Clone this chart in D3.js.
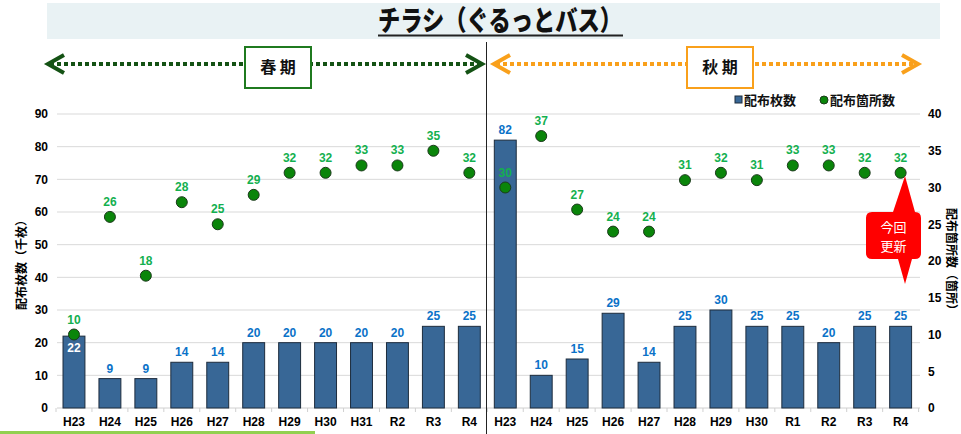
<!DOCTYPE html>
<html><head><meta charset="utf-8">
<script src="https://cdn.jsdelivr.net/npm/d3@7"></script>
<style>body{margin:0;background:#fff}svg{display:block}</style>
</head><body><svg id="c" width="961" height="434"></svg>
<script>
const categories = ["H23","H24","H25","H26","H27","H28","H29","H30","H31","R2","R3","R4"];
const categoriesAutumn = ["H23","H24","H25","H26","H27","H28","H29","H30","R1","R2","R3","R4"];
const springSheets = [22,9,9,14,14,20,20,20,20,20,25,25];
const springSites  = [10,26,18,28,25,29,32,32,33,33,35,32];
const autumnSheets = [82,10,15,29,14,25,30,25,25,20,25,25];
const autumnSites  = [30,37,27,24,24,31,32,31,33,33,32,32];
const leftTicks = [0,10,20,30,40,50,60,70,80,90];
const rightTicks = [0,5,10,15,20,25,30,35,40];

const rows = [];
categories.forEach((c,i)=>rows.push({key:"s"+i,label:c,sheets:springSheets[i],sites:springSites[i],season:"s",i}));
categoriesAutumn.forEach((c,i)=>rows.push({key:"a"+i,label:c,sheets:autumnSheets[i],sites:autumnSites[i],season:"a",i}));

const svg = d3.select("#c");
const JP = "'Noto Sans CJK JP','Noto Sans',sans-serif";
const NUM = "'Liberation Sans',Arial,sans-serif";

const x = d3.scaleBand().domain(rows.map(d=>d.key)).range([56,918.6]).paddingInner(0.39).paddingOuter(0.195);
const yL = d3.scaleLinear().domain([0,90]).range([408,114]);
const yR = d3.scaleLinear().domain([0,40]).range([408,114]);

// title banner
svg.append("rect").attr("x",47).attr("y",3).attr("width",893).attr("height",36).attr("fill","#e9f2f4");
svg.append("text").attr("x",500).attr("y",31).attr("text-anchor","middle")
  .attr("font-family",JP).attr("font-weight","900").attr("font-size",28)
  .attr("textLength",244).attr("lengthAdjust","spacingAndGlyphs").attr("fill","#111")
  .text("チラシ（ぐるっとバス）");
svg.append("line").attr("x1",378).attr("x2",623).attr("y1",35.5).attr("y2",35.5).attr("stroke","#222").attr("stroke-width",2);

// gridlines
svg.append("g").selectAll("line").data(leftTicks.filter(t=>t>0)).join("line")
  .attr("x1",57).attr("x2",920).attr("y1",d=>yL(d)).attr("y2",d=>yL(d))
  .attr("stroke","#d9d9d9").attr("stroke-width",1);
// baseline with ticks
svg.append("line").attr("x1",57).attr("x2",920).attr("y1",yL(0)).attr("y2",yL(0)).attr("stroke","#d0d0d0");
const bounds = rows.map(d=>x(d.key)-x.step()*x.paddingInner()/2);
bounds.push(918.6);
svg.append("g").selectAll("line").data(bounds).join("line")
  .attr("x1",d=>d).attr("x2",d=>d).attr("y1",yL(0)).attr("y2",yL(0)+4).attr("stroke","#d0d0d0");

// axes
const axL = svg.append("g").attr("transform","translate(48,0)").call(d3.axisLeft(yL).tickValues(leftTicks).tickSize(0).tickPadding(0));
const axR = svg.append("g").attr("transform","translate(928,0)").call(d3.axisRight(yR).tickValues(rightTicks).tickSize(0).tickPadding(0));
[axL,axR].forEach(a=>{a.select(".domain").remove();
  a.selectAll("text").attr("font-family",NUM).attr("font-weight","bold").attr("font-size",12).attr("fill","#000");});
const axX = svg.append("g").attr("transform","translate(0,"+yL(0)+")").call(d3.axisBottom(x).tickFormat(k=>rows.find(r=>r.key===k).label).tickSize(0).tickPadding(9));
axX.select(".domain").remove();
axX.selectAll("text").attr("font-family",NUM).attr("font-weight","bold").attr("font-size",12).attr("fill","#000");

// axis titles
svg.append("text").attr("transform","translate(26,262) rotate(-90)").attr("text-anchor","middle")
  .attr("font-family",JP).attr("font-weight","bold").attr("font-size",12).attr("fill","#000").text("配布枚数（千枚）");
svg.append("text").attr("transform","translate(947,262) rotate(90)").attr("text-anchor","middle")
  .attr("font-family",JP).attr("font-weight","bold").attr("font-size",12).attr("fill","#000").text("配布箇所数（箇所）");

// bars
svg.append("g").selectAll("rect").data(rows).join("rect")
  .attr("x",d=>x(d.key)).attr("width",x.bandwidth())
  .attr("y",d=>yL(d.sheets)).attr("height",d=>yL(0)-yL(d.sheets))
  .attr("fill","#386796").attr("stroke","#1d2c3d").attr("stroke-width",1);
// bar labels
svg.append("g").selectAll("text").data(rows).join("text")
  .attr("x",d=>x(d.key)+x.bandwidth()/2)
  .attr("y",d=>(d.season==="s"&&d.i===0)? yL(d.sheets)+16 : yL(d.sheets)-6)
  .attr("text-anchor","middle").attr("font-family",NUM).attr("font-weight","bold").attr("font-size",12)
  .attr("fill",d=>(d.season==="s"&&d.i===0)?"#fff":"#0a72c8").text(d=>d.sheets);

// dots
svg.append("g").selectAll("circle").data(rows).join("circle")
  .attr("cx",d=>x(d.key)+x.bandwidth()/2).attr("cy",d=>yR(d.sites)).attr("r",5.5)
  .attr("fill","#0a850a").attr("stroke","#1b3a1b").attr("stroke-width",1);
svg.append("g").selectAll("text").data(rows).join("text")
  .attr("x",d=>x(d.key)+x.bandwidth()/2).attr("y",d=>yR(d.sites)-11)
  .attr("text-anchor","middle").attr("font-family",NUM).attr("font-weight","bold").attr("font-size",12)
  .attr("fill","#13b04f").text(d=>d.sites);

// divider
svg.append("line").attr("x1",486.5).attr("x2",486.5).attr("y1",42).attr("y2",434).attr("stroke","#222").attr("stroke-width",1);

// season headers
function header(x1,x2,color,boxColor,bx,label){
  const y=64;
  svg.append("line").attr("x1",x1+4).attr("x2",x2-4).attr("y1",y).attr("y2",y)
    .attr("stroke",color).attr("stroke-width",4).attr("stroke-dasharray","4,3");
  svg.append("path").attr("d",`M${x1+18},${y-9} L${x1+2},${y} L${x1+18},${y+9}`)
    .attr("fill","none").attr("stroke",color).attr("stroke-width",4);
  svg.append("path").attr("d",`M${x2-18},${y-9} L${x2-2},${y} L${x2-18},${y+9}`)
    .attr("fill","none").attr("stroke",color).attr("stroke-width",4);
  svg.append("rect").attr("x",bx).attr("y",47).attr("width",66).attr("height",41)
    .attr("fill","#fff").attr("stroke",boxColor).attr("stroke-width",2);
  svg.append("text").attr("x",bx+33).attr("y",73).attr("text-anchor","middle")
    .attr("font-family",JP).attr("font-weight","bold").attr("font-size",16).attr("fill","#111").text(label);
}
header(46,484,"#145214","#1f7a1f",245,"春 期");
header(492,920,"#f9a01b","#f9a01b",687,"秋 期");

// legend
svg.append("rect").attr("x",735).attr("y",96).attr("width",7).attr("height",7).attr("fill","#386796").attr("stroke","#1d2c3d");
svg.append("text").attr("x",744).attr("y",105).attr("font-family",JP).attr("font-weight","bold").attr("font-size",13).attr("fill","#111").text("配布枚数");
svg.append("circle").attr("cx",824).attr("cy",100).attr("r",4).attr("fill","#0a850a").attr("stroke","#1b3a1b");
svg.append("text").attr("x",830).attr("y",105).attr("font-family",JP).attr("font-weight","bold").attr("font-size",13).attr("fill","#111").text("配布箇所数");

// callout
const cx0=866,cx1=921,cy0=212,cy1=259,px=905;
svg.append("path").attr("d",
  `M${cx0+6},${cy0} L${px-12},${cy0} L${px},${cy0-36} L${px+10},${cy0} L${cx1-6},${cy0} Q${cx1},${cy0} ${cx1},${cy0+6}
   L${cx1},${cy1-6} Q${cx1},${cy1} ${cx1-6},${cy1} L${px+7},${cy1} L${px},${cy1+25} L${px-7},${cy1} L${cx0+6},${cy1}
   Q${cx0},${cy1} ${cx0},${cy1-6} L${cx0},${cy0+6} Q${cx0},${cy0} ${cx0+6},${cy0} Z`)
  .attr("fill","#ff0000");
svg.append("text").attr("x",(cx0+cx1)/2).attr("y",cy0+20).attr("text-anchor","middle").attr("font-family",JP).attr("font-size",13).attr("fill","#fff").text("今回");
svg.append("text").attr("x",(cx0+cx1)/2).attr("y",cy0+39).attr("text-anchor","middle").attr("font-family",JP).attr("font-size",13).attr("fill","#fff").text("更新");

// bottom green line
svg.append("rect").attr("x",0).attr("y",431).attr("width",315).attr("height",3).attr("fill","#92d050");
</script></body></html>
